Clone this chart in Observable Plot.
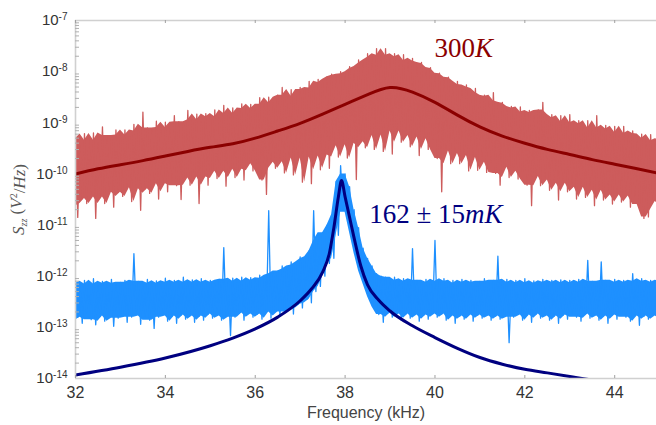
<!DOCTYPE html>
<html><head><meta charset="utf-8">
<script src="https://cdn.jsdelivr.net/npm/d3@7"></script>
<script src="https://cdn.jsdelivr.net/npm/@observablehq/plot@0.6"></script>
<style>body{margin:0;background:#fff}#chart svg{display:block}</style>
</head><body><div id="chart"></div>
<script>
// ---- data (log10 exponents) ----
const freqStart = 32, freqStep = 0.1; // noise traces sampled every 0.1 kHz from 32.0 to 45.0
const redHi = [
 -9.22,-9.43,-9.21,-9.34,-9.20,-9.40,-9.08,-9.25,-9.30,-9.14,
 -9.24,-9.14,-9.27,-9.03,-9.16,-8.79,-9.10,-9.15,-8.97,-9.09,
 -8.99,-9.13,-8.86,-8.98,-9.01,-8.76,-8.94,-8.83,-8.99,-8.82,
 -8.88,-8.75,-8.90,-8.66,-8.82,-8.71,-8.84,-8.63,-8.72,-8.64,
 -8.75,-8.51,-8.64,-8.50,-8.61,-8.46,-8.31,-8.50,-8.35,-8.48,
 -8.31,-8.35,-8.19,-8.32,-8.15,-8.21,-8.10,-8.05,-8.07,-8.00,
 -8.04,-7.90,-7.94,-7.77,-7.83,-7.65,-7.72,-7.55,-7.68,-7.55,
 -7.71,-7.65,-7.78,-7.67,-7.79,-7.74,-7.84,-7.82,-7.94,-7.92,
 -8.04,-8.03,-8.12,-8.11,-8.25,-8.19,-8.30,-8.26,-8.41,-8.33,
 -8.48,-8.46,-8.57,-8.41,-8.62,-8.60,-8.71,-8.68,-8.79,-8.69,
 -8.80,-8.76,-8.87,-8.75,-8.60,-8.90,-8.84,-8.98,-8.86,-9.00,
 -8.84,-9.02,-8.96,-9.10,-8.96,-9.10,-8.86,-9.12,-9.05,-9.19,
 -9.07,-9.25,-9.07,-9.21,-9.16,-9.30,-9.22,-9.36,-9.23,-9.35,
 -9.31];
const redLo = [
 -10.85,-10.48,-10.58,-10.39,-10.87,-10.45,-10.58,-10.29,-10.65,-10.36,
 -10.44,-10.25,-10.54,-10.27,-10.71,-10.29,-10.38,-10.15,-10.49,-10.19,
 -10.35,-10.11,-10.23,-10.50,-10.08,-10.22,-9.99,-10.58,-10.06,-10.22,
 -9.93,-10.09,-9.95,-10.24,-9.90,-10.07,-9.91,-10.12,-9.79,-9.94,
 -9.80,-10.12,-10.40,-9.77,-9.89,-9.76,-9.98,-9.65,-10.02,-9.69,
 -10.16,-9.67,-10.19,-9.65,-9.92,-9.63,-9.89,-9.45,-9.67,-9.43,
 -9.69,-9.40,-10.11,-9.37,-9.49,-9.25,-9.52,-9.24,-9.56,-9.13,
 -9.61,-9.16,-9.38,-9.15,-9.47,-9.25,-9.64,-9.28,-9.52,-9.31,
 -9.70,-10.35,-9.50,-9.80,-9.55,-9.80,-9.60,-9.94,-9.64,-9.93,
 -9.68,-9.97,-9.77,-9.99,-10.22,-9.86,-10.07,-9.87,-10.10,-9.95,
 -10.22,-10.62,-10.05,-10.23,-10.05,-10.32,-10.12,-10.51,-10.18,-10.35,
 -10.17,-10.49,-10.26,-10.46,-10.22,-10.62,-10.32,-10.51,-10.32,-10.59,
 -10.41,-10.55,-10.35,-10.65,-10.43,-10.60,-10.87,-10.84,-10.53,-10.69,
 -10.54];
const blueHi = [
 -12.10,-12.18,-12.08,-12.15,-12.05,-12.20,-12.10,-12.14,-12.06,-12.18,
 -12.12,-12.08,-12.16,-11.56,-12.10,-12.16,-12.06,-12.14,-12.09,-12.18,
 -12.04,-12.12,-12.08,-12.16,-12.02,-12.12,-12.07,-12.15,-12.05,-12.12,
 -12.08,-12.16,-12.06,-11.44,-12.10,-12.04,-12.13,-12.02,-12.10,-12.03,
 -12.08,-11.98,-12.04,-10.72,-11.95,-11.90,-11.80,-11.86,-11.72,-11.78,
 -11.62,-11.66,-11.50,-10.72,-11.30,-11.15,-11.00,-10.80,-10.15,-9.84,
 -10.00,-10.25,-10.70,-11.05,-11.45,-11.65,-11.80,-11.95,-12.00,-12.02,
 -12.08,-12.02,-12.10,-12.05,-12.12,-11.46,-12.08,-12.14,-12.06,-12.12,
 -11.30,-12.10,-12.05,-12.14,-12.08,-12.16,-12.06,-12.12,-12.08,-12.16,
 -12.10,-12.05,-12.14,-12.08,-11.61,-12.12,-12.06,-12.15,-12.08,-12.13,
 -12.05,-12.14,-12.09,-12.16,-12.06,-12.12,-12.08,-12.15,-12.07,-12.13,
 -12.08,-12.16,-12.06,-12.12,-11.69,-12.10,-12.14,-11.72,-12.08,-12.14,
 -12.06,-12.12,-12.08,-12.15,-11.95,-12.10,-12.05,-12.14,-12.08,-12.12,
 -12.06];
const blueLo = [
 -12.80,-12.92,-12.72,-12.85,-12.95,-12.78,-12.88,-12.74,-12.98,-12.82,
 -12.76,-12.90,-12.80,-12.72,-12.94,-12.78,-12.86,-13.02,-12.80,-12.74,
 -12.88,-12.78,-12.92,-12.76,-12.84,-12.72,-12.90,-12.78,-12.86,-12.74,
 -12.82,-12.70,-12.86,-12.78,-13.16,-12.80,-12.72,-12.86,-12.70,-12.80,
 -12.74,-12.84,-12.70,-12.82,-12.66,-12.78,-12.70,-12.62,-12.74,-12.55,
 -12.62,-12.45,-12.52,-12.30,-12.20,-12.00,-11.75,-11.65,-11.20,-10.70,
 -10.75,-11.15,-11.55,-11.90,-12.15,-12.40,-12.60,-12.75,-12.90,-12.72,
 -12.80,-12.68,-12.86,-12.74,-12.82,-12.70,-12.88,-12.76,-12.84,-12.70,
 -12.80,-12.74,-12.86,-12.72,-12.92,-12.78,-12.84,-12.72,-12.88,-12.76,
 -12.82,-12.70,-12.86,-12.78,-12.84,-12.74,-13.30,-12.80,-12.72,-12.86,
 -12.76,-12.90,-12.74,-12.82,-12.70,-12.86,-12.78,-12.92,-12.76,-12.84,
 -12.72,-12.80,-12.88,-12.74,-12.82,-12.70,-12.86,-12.78,-12.92,-12.76,
 -12.84,-12.72,-12.80,-12.88,-12.74,-12.96,-12.78,-12.84,-12.72,-12.86,
 -12.78];
const redFitFreq = [32,32.5,33,33.5,34,34.5,35,35.5,36,36.5,37,37.5,38,38.5,39,39.5,40,40.5,41,41.5,42,42.5,43,43.5,44,44.5,45];
const redFitExp  = [-10.0,-9.9,-9.82,-9.74,-9.65,-9.56,-9.48,-9.41,-9.30,-9.16,-9.01,-8.83,-8.64,-8.45,-8.31,-8.40,-8.60,-8.85,-9.08,-9.26,-9.40,-9.52,-9.62,-9.72,-9.81,-9.90,-9.99];
const blueFitFreq = [32,33,34,35,35.5,36,36.5,37,37.25,37.5,37.65,37.75,37.85,37.92,38.0,38.1,38.2,38.35,38.5,38.75,39,39.5,40,40.5,41,41.5,42,42.5,43,43.5,44,44.5,45];
const blueFitExp  = [-13.93,-13.78,-13.60,-13.36,-13.21,-13.03,-12.80,-12.48,-12.25,-11.92,-11.55,-11.05,-10.45,-10.13,-10.45,-10.85,-11.25,-11.8,-12.17,-12.47,-12.68,-12.97,-13.2,-13.41,-13.59,-13.72,-13.82,-13.89,-13.96,-14.03,-14.09,-14.14,-14.19];
const xTicks = [32,34,36,38,40,42,44];
const yTickExps = [-14,-13,-12,-11,-10,-9,-8,-7];
const annText = ["300K","162±15mK"];
const annFreq = [40.64, 40.02];
const annExp  = [-7.72, -10.95];
const annColor = ["#8b0000","#000080"];
const xLabel = "Frequency (kHz)";
const yLabel = "Szz (V2/Hz)";

// ---- build tables ----
const pow = e => Math.pow(10, e);
function noiseTables(hi, lo) {
  const band = hi.map((h, i) => ({x: freqStart + i * freqStep, hi: pow(h), lo: pow(lo[i])}));
  const zig = [];
  hi.forEach((h, i) => {
    zig.push({x: freqStart + i * freqStep, y: pow(h)});
    zig.push({x: freqStart + (i + 0.5) * freqStep, y: pow(lo[i])});
  });
  return {band, zig};
}
const red = noiseTables(redHi, redLo);
const blue = noiseTables(blueHi, blueLo);
const redFit = redFitFreq.map((x, i) => ({x, y: pow(redFitExp[i])}));
const blueFit = blueFitFreq.map((x, i) => ({x, y: pow(blueFitExp[i])}));
const yTicks = yTickExps.map(pow);
const minorTicks = [];
yTickExps.slice(0, -1).forEach(e => { for (let k = 2; k <= 9; k++) minorTicks.push(k * pow(e)); });
const anns = annText.map((t, i) => ({t, x: annFreq[i], y: pow(annExp[i]), c: annColor[i]}));
const xDomain = [32, 44.93], yDomain = [pow(-14), pow(-7)];

const RED = "#cd5c5c", BLUE = "#1e90ff", GRID = "#d0d0d0";
// dense core of each noisy trace (median of neighbouring samples), then the raw trace on top
const core = (data) => Plot.areaY(data, Plot.windowY({k: 3, reduce: "median", anchor: "middle"}, {x: "x", y1: "lo", y2: "hi", clip: true}));

const chart = Plot.plot({
  width: 656, height: 425,
  marginLeft: 75, marginRight: 0, marginTop: 20, marginBottom: 47,
  x: {domain: xDomain},
  y: {type: "log", domain: yDomain},
  style: {fontFamily: "'Liberation Sans', Arial, sans-serif", background: "white", overflow: "visible"},
  marks: [
    Plot.areaY(red.band, Plot.windowY({k: 3, reduce: "median"}, {x: "x", y1: "lo", y2: "hi", fill: RED, clip: true})),
    Plot.line(red.zig, {x: "x", y: "y", stroke: RED, strokeWidth: 1.3, clip: true}),
    Plot.line(redFit, {x: "x", y: "y", stroke: "#8b0000", strokeWidth: 3, curve: "natural", clip: true}),
    Plot.areaY(blue.band, Plot.windowY({k: 3, reduce: "median"}, {x: "x", y1: "lo", y2: "hi", fill: BLUE, clip: true})),
    Plot.line(blue.zig, {x: "x", y: "y", stroke: BLUE, strokeWidth: 1.3, clip: true}),
    Plot.line(blueFit, {x: "x", y: "y", stroke: "#000080", strokeWidth: 3, curve: "monotone-x", clip: true}),
    // frame (top, left, bottom)
    Plot.ruleY(yDomain, {stroke: GRID, strokeWidth: 1.6}),
    Plot.ruleX([xDomain[0]], {stroke: GRID, strokeWidth: 1.6}),
    Plot.tickY(minorTicks, {stroke: "#b0b0b0", insetRight: 577}),
    Plot.tickX(xTicks, {stroke: "#a0a0a0", insetBottom: 355}),
    Plot.tickX(xTicks, {stroke: "#a0a0a0", insetTop: 355}),
    Plot.axisX(xTicks, {tickSize: 0, tickPadding: 8, fontSize: 16, fill: "#333", label: null}),
    Plot.axisY(yTicks, {tickSize: 0, tickPadding: 8, fontSize: 15, fill: "#333", label: null,
      tickFormat: d => "10^" + Math.round(Math.log10(d))}),
    Plot.text([xLabel], {frameAnchor: "bottom", dy: 34, text: d => d, textAnchor: "middle", lineAnchor: "middle", fontSize: 16, fill: "#444"}),
    Plot.text([yLabel], {frameAnchor: "left", dx: -57, rotate: -90, text: d => d, textAnchor: "middle", lineAnchor: "middle", fontSize: 17, fill: "#555", fontFamily: "'Liberation Serif', serif"}),
    Plot.text(anns, {x: "x", y: "y", text: "t", fill: "c", textAnchor: "middle", lineAnchor: "bottom", fontSize: 27, fontFamily: "'Liberation Serif', serif"})
  ]
});
document.getElementById("chart").appendChild(chart);

// ---- rich text (superscripts, subscripts, italics) ----
const NS = "http://www.w3.org/2000/svg";
function rich(el, parts) {
  while (el.firstChild) el.removeChild(el.firstChild);
  parts.forEach(p => {
    const ts = document.createElementNS(NS, "tspan");
    ts.textContent = p.t;
    if (p.i) ts.setAttribute("font-style", "italic");
    if (p.s) ts.setAttribute("font-size", p.s);
    if (p.dy) ts.setAttribute("dy", p.dy);
    el.appendChild(ts);
  });
}
chart.querySelectorAll("text").forEach(el => {
  const s = el.textContent;
  let m = s.match(/^10\^(-?\d+)$/);
  if (m) { rich(el, [{t: "10"}, {t: m[1], s: 10, dy: "-0.5em"}]); return; }
  if (s === "300K") rich(el, [{t: "300"}, {t: "K", i: true}]);
  else if (s === "162±15mK") rich(el, [{t: "162 ± 15"}, {t: "mK", i: true}]);
  else if (s === yLabel) rich(el, [{t: "S", i: true}, {t: "zz", i: true, s: 10, dy: "0.35em"}, {t: " (", dy: "-0.35em"}, {t: "V", i: true}, {t: "2", s: 10, dy: "-0.45em"}, {t: "/", dy: "0.45em"}, {t: "Hz", i: true}, {t: ")"}]);
});
</script>
</body></html>
